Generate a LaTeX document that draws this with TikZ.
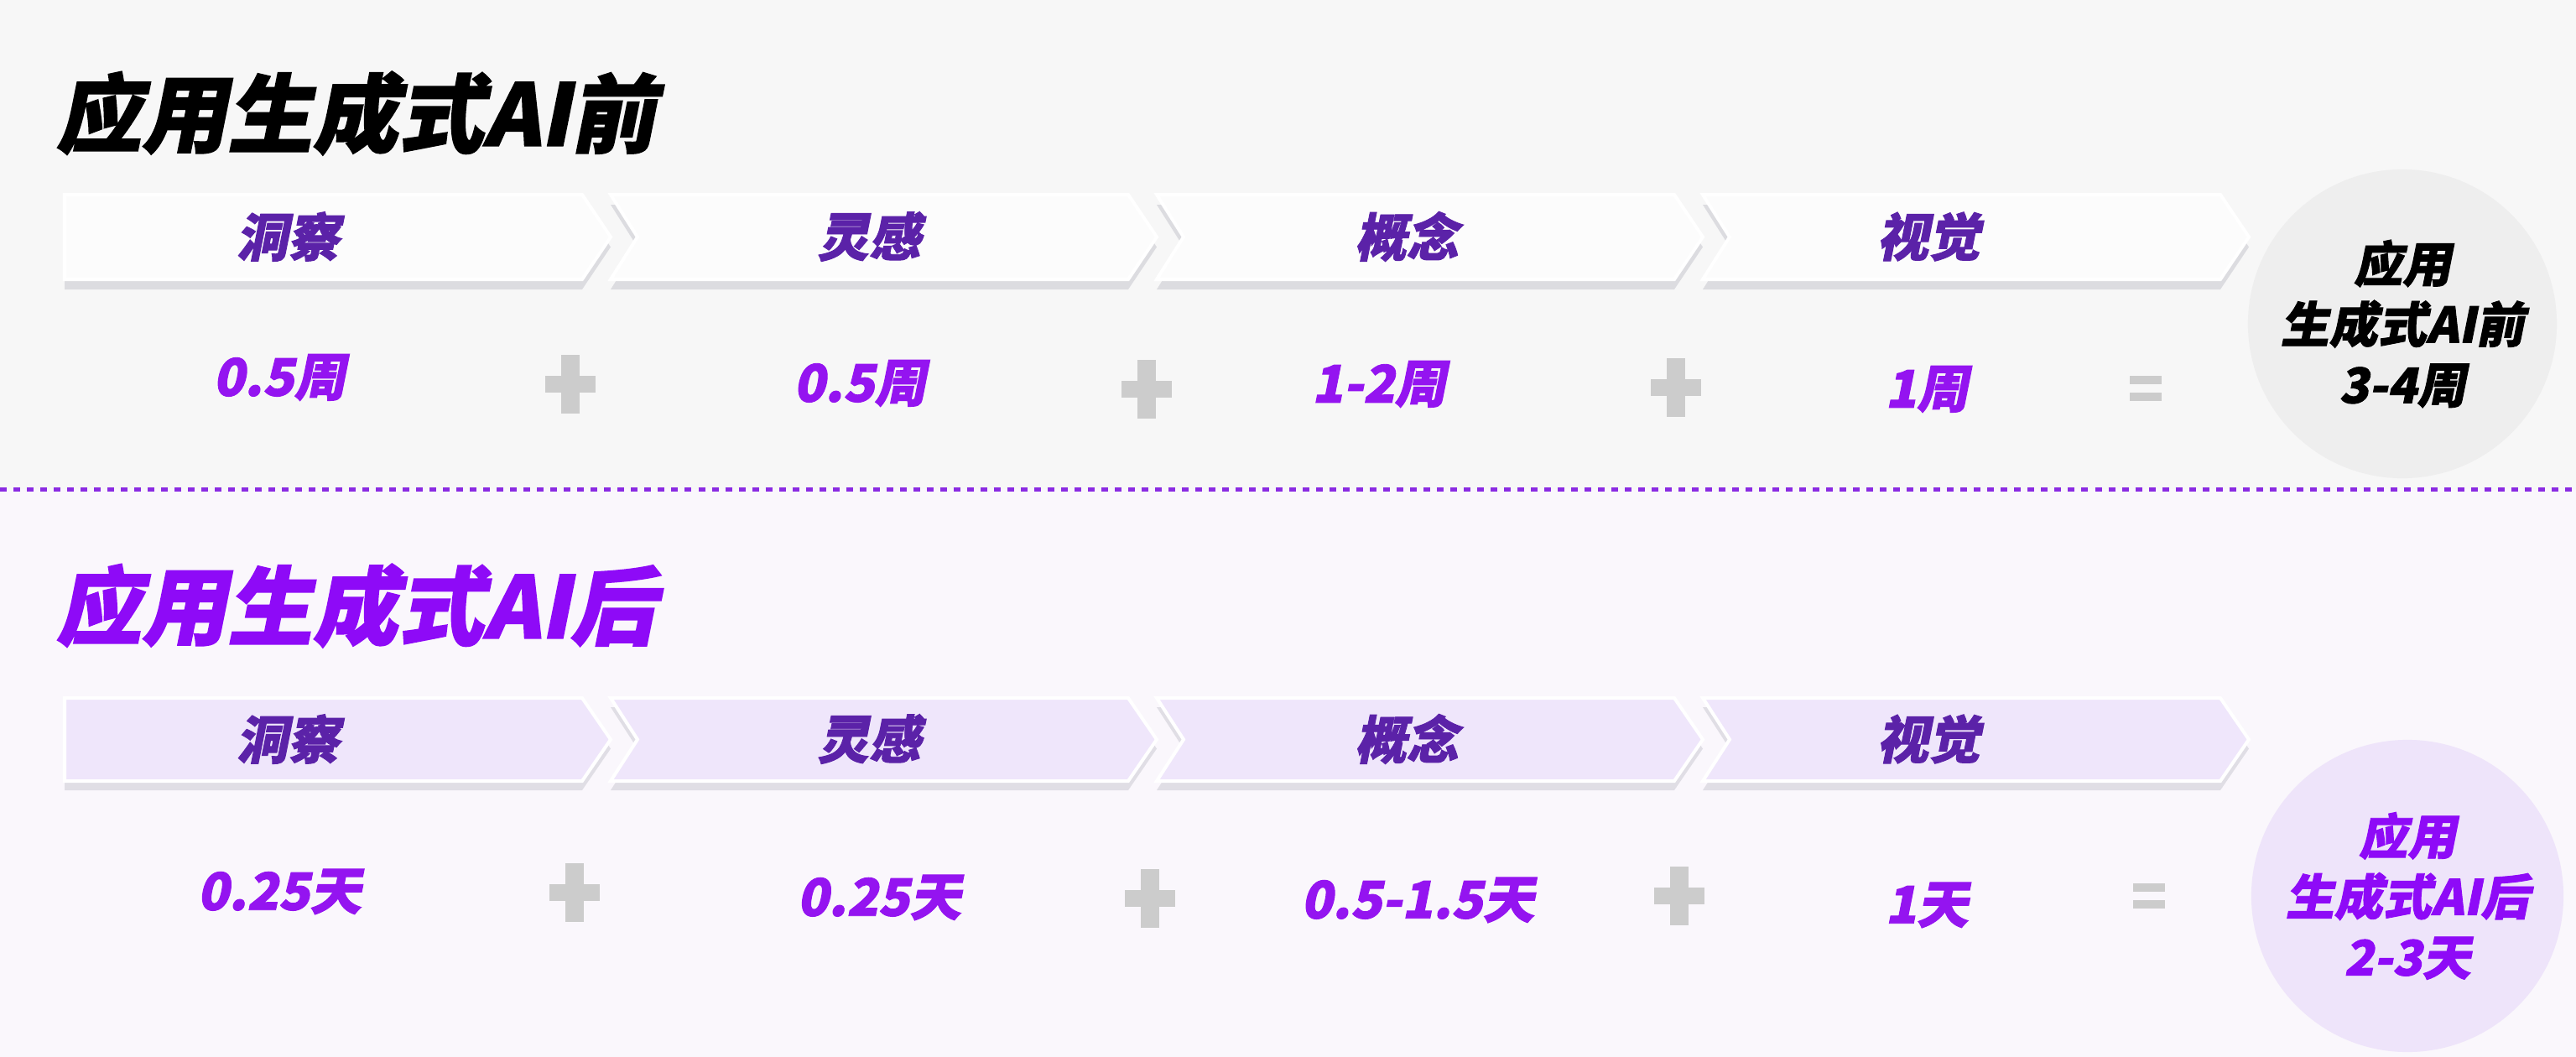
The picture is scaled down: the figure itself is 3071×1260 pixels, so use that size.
\documentclass[tikz,border=0pt]{standalone}
\usepackage{fontspec}
\newfontfamily\cjkheavy[FakeSlant=0.2,FakeBold=1.5]{Noto Sans CJK SC Black}
\usetikzlibrary{positioning}
\definecolor{topbg}{HTML}{F7F7F7}
\definecolor{lowbg}{HTML}{FAF7FC}
\definecolor{chevtop}{HTML}{FCFCFC}
\definecolor{chevlow}{HTML}{EFE6FB}
\definecolor{shadowgray}{HTML}{DCDCE0}
\definecolor{stepink}{HTML}{5B22A8}
\definecolor{timeink}{HTML}{9414F0}
\definecolor{titleviolet}{HTML}{8E0AF7}
\definecolor{sumgray}{HTML}{EEEEEE}
\definecolor{sumlav}{HTML}{EEE4FA}
\definecolor{opgray}{HTML}{CCCCCC}
\definecolor{dotviolet}{HTML}{8A2BE2}
% one arrow-step of the process bar: left, top, height
\newcommand{\chevron}[3]{(#1,#2) -- (#1+617,#2) -- (#1+651,#2+#3/2) -- (#1+617,#2+#3) -- (#1,#2+#3) -- (#1+\notch,#2+#3/2) -- cycle}

\begin{document}
\begin{tikzpicture}[x=0.01cm,y=-0.01cm,
    every node/.style={inner sep=0pt},
    headline/.style={font=\cjkheavy\fontsize{29}{32}\selectfont, anchor=west},
    steptext/.style={font=\cjkheavy\fontsize{17.5}{20}\selectfont, text=stepink},
    timetext/.style={font=\cjkheavy\fontsize{17.5}{20}\selectfont, text=timeink},
    sumdisc/.style={circle, align=center, font=\cjkheavy\fontsize{16.5}{20.5}\selectfont},
    opfill/.style={fill=opgray}]
\useasboundingbox (0,0) rectangle (3071,1260);
% backgrounds
\fill[topbg] (0,0) rectangle (3071,583);
\fill[lowbg] (0,583) rectangle (3071,1260);
\draw[dotviolet, line width=0.05cm, dash pattern=on 0.08cm off 0.08cm] (0,583) -- (3071,583);

% titles
\node[headline] (before) at (66,135) {应用生成式AI前};
\node[headline, text=titleviolet] (after) at (66,722) {应用生成式AI后};

% process bars
\foreach \l [count=\i] in {77,728,1379,2030}{
  \pgfmathsetmacro{\notch}{ifthenelse(\i>1,32,0)}
  \fill[shadowgray] \chevron{\l}{244}{101};
  \fill[shadowgray!80!chevlow] \chevron{\l}{843}{99};
}
\foreach \l [count=\i] in {77,728,1379,2030}{
  \pgfmathsetmacro{\notch}{ifthenelse(\i>1,32,0)}
  \filldraw[fill=chevtop, draw=white, line width=0.04cm] \chevron{\l}{232}{101};
  \filldraw[fill=chevlow, draw=white, line width=0.04cm] \chevron{\l}{832}{99};
}
\foreach \x/\t [count=\i] in {343/洞察,1036/灵感,1677/概念,2299/视觉}{
  \node[steptext] (stepA\i) at (\x,282) {\t};
  \node[steptext] (stepB\i) at (\x,881) {\t};
}

% durations
\node[timetext] (weekA) at (333,450) {0.5周};
\node[timetext] (weekB) at (1025,457) {0.5周};
\node[timetext] (weekC) at (1644,458) {1-2周};
\node[timetext] (weekD) at (2297,464) {1周};
\node[timetext] (dayA) at (333,1063) {0.25天};
\node[timetext] (dayB) at (1048,1070) {0.25天};
\node[timetext] (dayC) at (1690,1073) {0.5-1.5天};
\node[timetext] (dayD) at (2297,1079) {1天};

% plus and equals signs
\foreach \x/\y in {680/458,1367/464,1998/462,685/1064,1371/1071,2002/1068}{
  \fill[opfill] (\x-30,\y-10) rectangle (\x+30,\y+10);
  \fill[opfill] (\x-11,\y-35) rectangle (\x+11,\y+35);
}
\foreach \x/\y in {2558/463,2562/1068}{
  \fill[opfill] (\x-19,\y-15) rectangle (\x+19,\y-5);
  \fill[opfill] (\x-19,\y+5) rectangle (\x+19,\y+15);
}

% totals
\node[sumdisc, fill=sumgray, minimum size=3.68cm] (totalA) at (2864,386) {应用\\生成式AI前\\3-4周};
\node[sumdisc, fill=sumlav, text=titleviolet, minimum size=3.72cm] (totalB) at (2870,1068) {应用\\生成式AI后\\2-3天};
\end{tikzpicture}
\end{document}
